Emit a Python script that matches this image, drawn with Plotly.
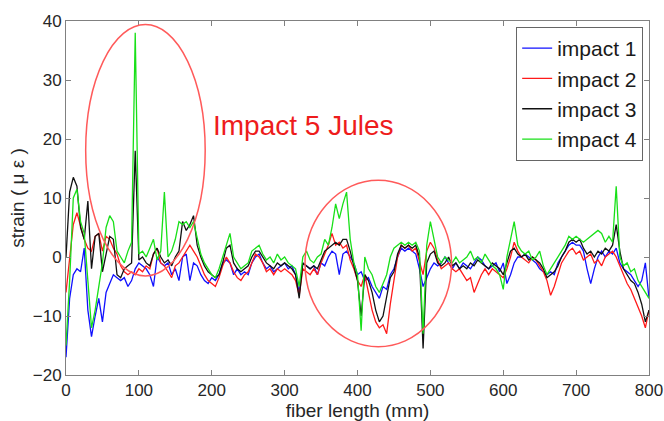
import plotly.graph_objects as go

# fiber position (mm), every 5 mm
x_mm = list(range(0, 805, 5))

impact1 = [
    -17, -7, -3, -2, -2.5, 1.5, -9, -13.5, -10, -7,
    -11, -6, -4.5, -3, -3.5, -4, -3.5, -5, -4, -2,
    -1, -1.5, -2, -3, -5, 0, -1, -1.5, -1, -3,
    -2, -4, 0, 0.5, -4, -1, -1.5, -3, -4, -4.5,
    -3.5, -4, -3, -1, -0.5, -1, -3, -2, -3, -2.5,
    -3, -1, 0, 0.5, -1, -2, -1.5, -2.5, -2, -1.5,
    -1, -2, -1.5, -3, -6, -1, -1.5, -2, -1.5, -3,
    -1, -1.5, 0, 1, 0.5, -3, 0.5, 1, 0, -1,
    -3, -2.5, -4, -3.5, -5, -6, -7, -5, -5.5, -3,
    -2, 0, 1.5, 1, 1.5, 1, 0.5, -2, -5, -3.5,
    -2, -1, -1.5, -1, 0, -1, -2, -1, -2, -1,
    -1.5, -2, -1, 0, -0.5, -1.5, -2, -1.5, -1, -2.5,
    -1, -4.5, -3, -1, 0, 0, 0.5, 0, -0.5, -1,
    -2, -2.5, -3, -2.5, -3, -1, 0, 1, 2, 2.5,
    2, 2, 1, -2, -4.5, -2, 0, 1, 0, 1,
    0.5, 1.5, -1, -2, -2.5, -3, -4, -5, -4, -1,
    -7,
]

impact2 = [
    -6, 0, 5.5, 7.5, 5, 3, 1.5, 1, 3.5, 4,
    1, 3.5, 3, 1.5, 0.5, -1.5, -2.5, -3, -2.5, -3,
    -2, -2.5, -1.5, -2, 0.5, 1.5, -1, -1.5, -2.5, -3.5,
    -1.5, -1, 0, 1, 2, 1, 0, -1.5, -3, -4,
    -4.5, -5, -3.5, -1.5, 0, -1, -2.5, -3.5, -4, -3,
    -2.5, -1, 0.5, 0, -1, -2.5, -2, -3, -2, -2.5,
    -2, -2.5, -3, -4, -6.5, -2, -2.5, -3, -2, -3,
    -1, 0.5, 2, 4, 2, 2.5, 1.5, 2, -0.5, -2,
    -4, -5, -3, -6, -9, -11, -12, -11.5, -13, -8,
    -4, 0, 2, 1.5, 2, 1, 1.5, -1, -3, 1,
    2.5, 1.5, -0.5, -2, -1.5, -1, -2, -2.5, -2, -3,
    -4, -3.5, -6, -4.5, -3, -2, -3, -2, -2.5, -3,
    -3.5, -2, 0, 2.5, 1, 0, -0.5, -1, 0, -0.5,
    -1.5, -2.5, -4, -6.5, -5, -3, -1, 0, 1, 1.5,
    0.5, 1, -0.5, 0, 0.5, -1, -0.5, -1.5, 0, 0.5,
    1, 0, -1.5, -3, -4.5, -5.5, -7, -8.5, -10, -12,
    -9,
]

impact3 = [
    0, 11, 13.5, 12, 5, 3, 9.5, -2, 3.5, 4,
    -2.5, 0.5, 3.5, 3, -3, -3.5, -2, -1.5, -1, 18,
    -0.5, 0, -1, -1.5, 0.5, 1.5, 0, -1, -0.5, -1.5,
    0, 1, 6, 4.5, 5.5, 7, 2, 0, -1.5, -2.5,
    -3, -3.5, -3, -1, 1.5, 2, -1, -2, -2.5, -2,
    -1.5, 0, 1, 1, 0, -1, -1.5, -2, -1, -1.5,
    -1, -1.5, -2, -3, -7, -1, -1.5, -2, -1.5, -2,
    -0.5, 1, 1.5, 2, 2.5, 2, 3, 3, 1, -1.5,
    -4, -10, -3, -4, -6, -9, -11, -10, -7, -3.5,
    -2.5, 0.5, 2, 1.5, 2, 1.5, 2, 0, -15.5, -1,
    0.5, 1, -1, -1.5, -1, 0, -1.5, -1, -2, -1.5,
    -2, -1, -1.5, -0.5, -1, -1.5, -2, -1, -1.5, -2,
    -3, -1, 1, 1.5, 0.5, 0, 0.5, -0.5, 0, -0.5,
    -1, -2, -3.5, -3, -2.5, -1.5, 0, 1, 2.5, 3,
    2.5, 3, 1.5, 0.5, 1, 0, 1, 0.5, 1.5, 1,
    2, 5.5, 1, -2, -3, -4, -4.5, -6, -8, -11,
    -9,
]

impact4 = [
    -15, -4, 10, 11.5, 6, 4, -4, -12, -9, -5,
    -1, 5, 7, 6, 1, 0, -1, 1, 2.5, 38,
    0.5, 1, 0, 1.5, 3, -0.5, 1, 11, 0, 1,
    3, 6, 5.5, 6, 5, 6, 3, 0.5, -1, -2,
    -3, -3.5, -2, 0, 2, 4, 0, -1, -2, -1.5,
    -1, 1, 1.5, 2, 0.5, -0.5, 0, -1, 0.5, -0.5,
    0, -1, -1.5, -2, -5, 0, 1, -0.5, -1, 0,
    0.5, 3, 2, 5, 9, 6.5, 9, 11, 3, -1,
    -3, -12.5, 0, -2, -3, -5, -6, -4.5, -3, 0,
    1.5, 2, 2.5, 2, 2.5, 2, 2.5, 1, -13, 2,
    6, 3, 0, -1, 0, -0.5, -1, 0, -1, -0.5,
    0, 1, -0.5, 0, -1, 0.5, -0.5, -1.5, -2, -3,
    -5.5, 0, 3, 6, 2, 1, 0.5, 1, -0.5, 0,
    1, -1.5, -3, -2, -1, 0, 1, 2, 3.5, 3,
    3.5, 3, 2.5, 3, 3.5, 4, 4.5, 4, 2.5, 3.5,
    2.5, 12, 0, -1.5, -1, -2.5, -2, -4, -5, -6,
    -7,
]

series_names = ["impact 1", "impact 2", "impact 3", "impact 4"]
series_colors = ["#1010ff", "#ff1a1a", "#111111", "#18e018"]

x_ticks = [0, 100, 200, 300, 400, 500, 600, 700, 800]
y_ticks = [-20, -10, 0, 10, 20, 30, 40]

# annotation ellipses (data coords)
ell1 = dict(x0=27, x1=191, y0=-3.2, y1=39.4)
ell2 = dict(x0=328, x1=529, y0=-15.2, y1=13.0)

FONT = "Liberation Sans, Arial, sans-serif"

fig = go.Figure()
for name, ys, col in zip(series_names, [impact1, impact2, impact3, impact4], series_colors):
    fig.add_trace(go.Scatter(x=x_mm, y=ys, mode="lines", name=name,
                             line=dict(color=col, width=1.3)))

for e in (ell1, ell2):
    fig.add_shape(type="circle", xref="x", yref="y", **e,
                  line=dict(color="#ff5a5a", width=1.5))

fig.add_annotation(x=326, y=22.3, xref="x", yref="y", text="Impact 5 Jules",
                   showarrow=False, font=dict(family=FONT, size=28, color="#ee1c1c"),
                   xanchor="center", yanchor="middle")

axis_common = dict(showgrid=False, zeroline=False, showline=True, linecolor="#808080",
                   linewidth=1, mirror="ticks", ticks="inside", ticklen=5,
                   tickcolor="#808080", automargin=False,
                   tickfont=dict(family=FONT, size=17, color="#262626"))

fig.update_xaxes(range=[0, 800], tickvals=x_ticks, **axis_common,
                 title=dict(text="fiber length (mm)", font=dict(family=FONT, size=19, color="#262626"),
                            standoff=2))
fig.update_yaxes(range=[-20, 40], tickvals=y_ticks, **axis_common,
                 title=dict(text="strain ( μ ε )", font=dict(family=FONT, size=19, color="#262626"),
                            standoff=3))

fig.update_layout(
    width=664, height=421,
    margin=dict(l=66, r=15, t=21, b=46, autoexpand=False),
    paper_bgcolor="white", plot_bgcolor="white",
    font=dict(family=FONT),
    legend=dict(x=0.99, y=0.983, xanchor="right", yanchor="top",
                bgcolor="white", bordercolor="#666666", borderwidth=1,
                font=dict(family=FONT, size=21, color="#1a1a1a"),
                tracegroupgap=0),
)

fig.write_html("out.html", config={"displayModeBar": False},
               post_script="document.body.style.margin='0';document.body.style.overflow='hidden';")
